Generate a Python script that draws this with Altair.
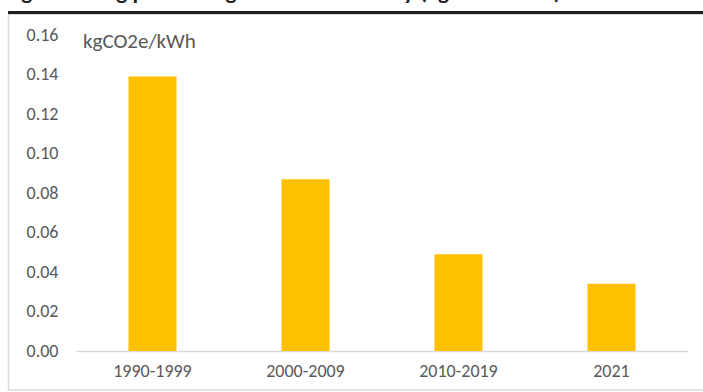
import altair as alt
import pandas as pd

# Emission intensity of purchased energy by period
periods = ["1990-1999", "2000-2009", "2010-2019", "2021"]
intensity = [0.139, 0.087, 0.049, 0.034]
y_ticks = [0.00, 0.02, 0.04, 0.06, 0.08, 0.10, 0.12, 0.14, 0.16]

unit_label = "kgCO2e/kWh"
title_text = "Figure 3: Avg purchasing emission intensity (kgCO2e/kWh)"

FONT = "Carlito, Lato, sans-serif"
GREY_TEXT = "#595959"
GREY_LINE = "#D9D9D9"

df = pd.DataFrame({"period": periods, "intensity": intensity})
one = alt.Data(values=[{}])

bars = alt.Chart(df).mark_bar(color="#FFC000").encode(
    x=alt.X(
        "period:N",
        sort=periods,
        title=None,
        scale=alt.Scale(paddingInner=0.686, paddingOuter=0.343),
        axis=alt.Axis(
            labelAngle=0,
            labelFont=FONT,
            labelFontSize=18,
            labelColor=GREY_TEXT,
            labelPadding=11,
            ticks=False,
            domainColor=GREY_LINE,
            domainWidth=1.5,
        ),
    ),
    y=alt.Y(
        "intensity:Q",
        title=None,
        scale=alt.Scale(domain=[0, 0.16], nice=False),
        axis=alt.Axis(
            values=y_ticks,
            format=".2f",
            labelFont=FONT,
            labelFontSize=18,
            labelColor=GREY_TEXT,
            labelPadding=18,
            ticks=False,
            domain=False,
            grid=False,
        ),
    ),
)

unit = alt.Chart(one).mark_text(
    text=unit_label, align="left", baseline="middle",
    font=FONT, fontSize=21, color=GREY_TEXT,
).encode(x=alt.value(7), y=alt.value(7))

# Figure caption sitting above the frame
caption = alt.Chart(one).mark_text(
    text=title_text, align="left", baseline="alphabetic",
    font=FONT, fontSize=23, fontWeight="bold", color="#222222",
).encode(x=alt.value(-71), y=alt.value(-36))

# Frame: heavy top rule plus light left and bottom borders
top_rule = alt.Chart(one).mark_rule(color="#1F1F1F", strokeWidth=3).encode(
    x=alt.value(-68), x2=alt.value(640), y=alt.value(-22.5)
)
frame_top = alt.Chart(one).mark_rule(color=GREY_LINE, strokeWidth=1).encode(
    x=alt.value(-68), x2=alt.value(640), y=alt.value(-20.5)
)
frame_left = alt.Chart(one).mark_rule(color=GREY_LINE, strokeWidth=1.5).encode(
    x=alt.value(-67.5), y=alt.value(-21), y2=alt.value(355)
)
frame_bottom = alt.Chart(one).mark_rule(color=GREY_LINE, strokeWidth=1.5).encode(
    x=alt.value(-68), x2=alt.value(640), y=alt.value(355)
)

chart = alt.layer(
    frame_top, frame_left, frame_bottom, top_rule, caption, unit, bars
).properties(
    width=612,
    height=316,
    autosize=alt.AutoSizeParams(type="none"),
    padding={"left": 76, "top": 35, "right": 15, "bottom": 41},
    background="white",
).configure_view(stroke=None)

chart.save("out.html", embed_options={"renderer": "svg", "actions": False})
